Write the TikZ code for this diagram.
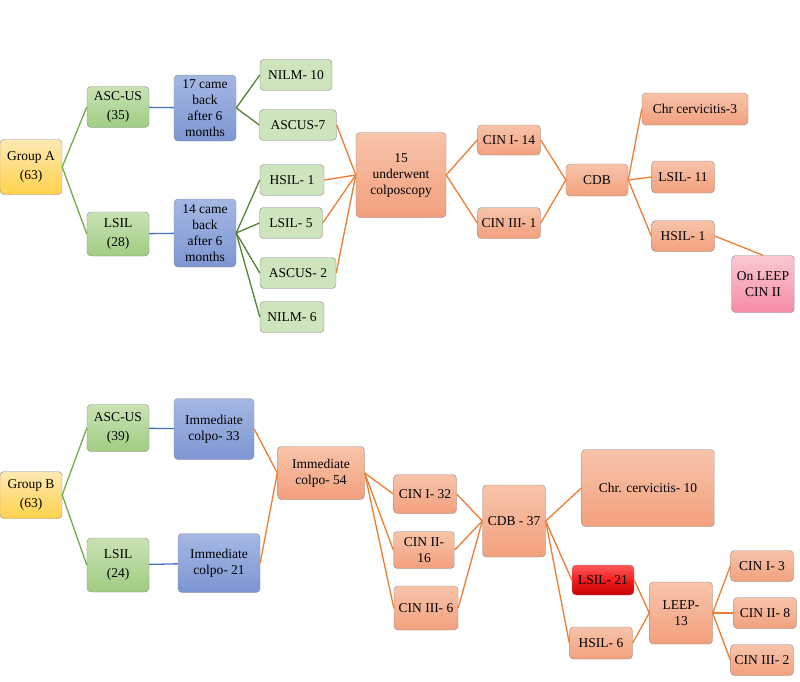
\documentclass[tikz,border=0pt]{standalone}
\usepackage{fontspec}
\setmainfont{Liberation Serif}
\begin{document}
\begin{tikzpicture}[x=1pt,y=-1pt,
 bx/.style={draw=black!45,rounded corners=4pt,align=center,inner sep=1pt,font=\fontsize{13.5}{16}\selectfont},
 yel/.style={bx,top color=yellow!40!orange!30,bottom color=orange!50!yellow!70},
 grn/.style={bx,top color=green!40!black!10!white,bottom color=green!45!black!40!white,top color={rgb,255:red,200;green,226;blue,180},bottom color={rgb,255:red,160;green,205;blue,130}},
 lgr/.style={bx,fill={rgb,255:red,205;green,228;blue,188}},
 blu/.style={bx,top color={rgb,255:red,165;green,184;blue,228},bottom color={rgb,255:red,125;green,150;blue,210}},
 sal/.style={bx,top color={rgb,255:red,248;green,196;blue,170},bottom color={rgb,255:red,242;green,160;blue,125}},
 pnk/.style={bx,top color={rgb,255:red,250;green,200;blue,210},bottom color={rgb,255:red,245;green,140;blue,165}},
 red/.style={bx,top color={rgb,255:red,255;green,90;blue,90},bottom color={rgb,255:red,200;green,0;blue,0},middle color={rgb,255:red,240;green,30;blue,30}},
 gl/.style={draw={rgb,255:red,112;green,173;blue,71},line width=1.3pt},
 dg/.style={draw={rgb,255:red,84;green,130;blue,53},line width=1.3pt},
 bl/.style={draw={rgb,255:red,68;green,114;blue,196},line width=1.3pt},
 ol/.style={draw={rgb,255:red,237;green,125;blue,49},line width=1.3pt}]
\useasboundingbox (0,0) rectangle (800,681);
% Group A
\node[yel,minimum width=62,minimum height=55] (ga) at (31,167) {Group A\\[3pt](63)};
\node[grn,minimum width=62,minimum height=41] (aasc) at (118,107) {ASC-US\\[3pt](35)};
\node[grn,minimum width=62,minimum height=44] (alsil) at (118,234) {LSIL\\[3pt](28)};
\node[blu,minimum width=62,minimum height=66] (a17) at (205,108) {17 came\\back\\after 6\\months};
\node[blu,minimum width=62,minimum height=68] (a14) at (205,233) {14 came\\back\\after 6\\months};
\node[lgr,minimum width=72,minimum height=31] (n10) at (296,75) {NILM- 10};
\node[lgr,minimum width=77,minimum height=31] (as7) at (298,125) {ASCUS-7};
\node[lgr,minimum width=64,minimum height=31] (h1) at (292,180) {HSIL- 1};
\node[lgr,minimum width=63,minimum height=31] (l5) at (291,223) {LSIL- 5};
\node[lgr,minimum width=76,minimum height=31] (as2) at (298,273) {ASCUS- 2};
\node[lgr,minimum width=64,minimum height=31] (n6) at (292,317) {NILM- 6};
\node[sal,minimum width=90,minimum height=85] (u15) at (401,175) {15\\underwent\\colposcopy};
\node[sal,minimum width=63,minimum height=30] (c14) at (509,140) {CIN I- 14};
\node[sal,minimum width=63,minimum height=31] (c31) at (509,223) {CIN III- 1};
\node[sal,minimum width=62,minimum height=32] (cdb) at (597,180) {CDB};
\node[sal,minimum width=106,minimum height=32] (chr3) at (695,109) {Chr cervicitis-3};
\node[sal,minimum width=63,minimum height=32] (l11) at (683,177) {LSIL- 11};
\node[sal,minimum width=63,minimum height=31] (hs1) at (683,236) {HSIL- 1};
\node[pnk,minimum width=63,minimum height=57] (leep) at (763,284) {On LEEP\\CIN II};
\draw[gl] (ga.east) -- (aasc.west); \draw[gl] (ga.east) -- (alsil.west);
\draw[bl] (aasc) -- (a17); \draw[bl] (alsil) -- (a14);
\draw[dg] (a17.east) -- (n10.west); \draw[dg] (a17.east) -- (as7.west);
\foreach \t in {h1,l5,as2,n6} \draw[dg] (a14.east) -- (\t.west);
\foreach \t in {as7,h1,l5,as2} \draw[ol] (\t.east) -- (u15.west);
\draw[ol] (u15.east) -- (c14.west); \draw[ol] (u15.east) -- (c31.west);
\draw[ol] (c14.east) -- (cdb.west); \draw[ol] (c31.east) -- (cdb.west);
\foreach \t in {chr3,l11,hs1} \draw[ol] (cdb.east) -- (\t.west);
\draw[ol] (hs1.east) -- (leep.north);
% Group B
\node[yel,minimum width=62,minimum height=47] (gb) at (31,495) {Group B\\[3pt](63)};
\node[grn,minimum width=62,minimum height=47] (basc) at (118,428) {ASC-US\\[3pt](39)};
\node[grn,minimum width=62,minimum height=54] (blsil) at (118,565) {LSIL\\[3pt](24)};
\node[blu,minimum width=80,minimum height=61] (i33) at (214,429) {Immediate\\colpo- 33};
\node[blu,minimum width=82,minimum height=59] (i21) at (219,563) {Immediate\\colpo- 21};
\node[sal,minimum width=87,minimum height=53] (i54) at (321,473) {Immediate\\colpo- 54};
\node[sal,minimum width=63,minimum height=39] (c32) at (425,494) {CIN I- 32};
\node[sal,minimum width=61,minimum height=37] (c216) at (424,550) {CIN II-\\16};
\node[sal,minimum width=64,minimum height=44] (c36) at (426,608) {CIN III- 6};
\node[sal,minimum width=63,minimum height=72] (cdb37) at (514,521) {CDB - 37};
\node[sal,minimum width=133,minimum height=77] (chr10) at (648,488) {Chr. cervicitis- 10};
\node[red,minimum width=62,minimum height=30] (l21) at (603,580) {LSIL- 21};
\node[sal,minimum width=63,minimum height=32] (h6) at (601,643) {HSIL- 6};
\node[sal,minimum width=63,minimum height=62] (le13) at (681,613) {LEEP-\\13};
\node[sal,minimum width=63,minimum height=31] (ci3) at (762,566) {CIN I- 3};
\node[sal,minimum width=63,minimum height=31] (ci8) at (765,613) {CIN II- 8};
\node[sal,minimum width=63,minimum height=31] (ci2) at (762,660) {CIN III- 2};
\draw[gl] (gb.east) -- (basc.west); \draw[gl] (gb.east) -- (blsil.west);
\draw[bl] (basc) -- (i33); \draw[bl] (blsil) -- (i21);
\draw[ol] (i33.east) -- (i54.west); \draw[ol] (i21.east) -- (i54.west);
\foreach \t in {c32,c216,c36} \draw[ol] (i54.east) -- (\t.west);
\foreach \t in {c32,c216,c36} \draw[ol] (\t.east) -- (cdb37.west);
\foreach \t in {chr10,l21,h6} \draw[ol] (cdb37.east) -- (\t.west);
\draw[ol] (l21.east) -- (le13.west); \draw[ol] (h6.east) -- (le13.west);
\foreach \t in {ci3,ci8,ci2} \draw[ol] (le13.east) -- (\t.west);
\end{tikzpicture}
\end{document}
